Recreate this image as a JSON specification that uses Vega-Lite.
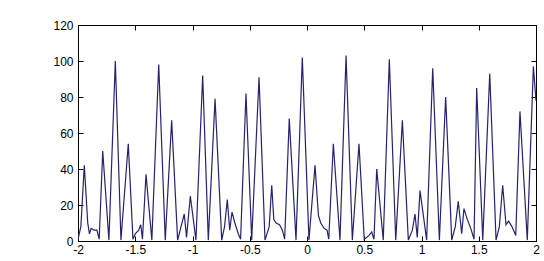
{
  "$schema": "https://vega.github.io/schema/vega-lite/v6.json",
  "width": 458,
  "height": 216,
  "autosize": {"type": "none"},
  "padding": {"left": 78, "top": 25, "right": 8, "bottom": 20},
  "background": "white",
  "config": {
    "view": {"stroke": "black", "strokeWidth": 1},
    "axis": {
      "grid": false,
      "domainColor": "black",
      "tickColor": "black",
      "tickSize": -5,
      "labelFont": "Liberation Sans",
      "labelFontSize": 12,
      "labelColor": "black",
      "labelExpr": "datum.value",
      "title": null
    }
  },
  "data": {"values": [
    {"x": -2.0, "y": 1}, {"x": -1.975, "y": 8}, {"x": -1.945, "y": 42}, {"x": -1.915, "y": 10}, {"x": -1.9, "y": 4},
    {"x": -1.885, "y": 7}, {"x": -1.86, "y": 6}, {"x": -1.835, "y": 6}, {"x": -1.815, "y": 1}, {"x": -1.784, "y": 50},
    {"x": -1.73, "y": 0.5}, {"x": -1.674, "y": 100}, {"x": -1.625, "y": 0.5}, {"x": -1.561, "y": 54}, {"x": -1.52, "y": 1},
    {"x": -1.5, "y": 4}, {"x": -1.47, "y": 6}, {"x": -1.452, "y": 9}, {"x": -1.437, "y": 1}, {"x": -1.406, "y": 37},
    {"x": -1.355, "y": 0.5}, {"x": -1.295, "y": 98}, {"x": -1.238, "y": 0.5}, {"x": -1.182, "y": 67}, {"x": -1.13, "y": 0.5},
    {"x": -1.1, "y": 8}, {"x": -1.072, "y": 15}, {"x": -1.052, "y": 2}, {"x": -1.019, "y": 25}, {"x": -0.97, "y": 0.5},
    {"x": -0.911, "y": 92}, {"x": -0.862, "y": 0.5}, {"x": -0.803, "y": 79}, {"x": -0.745, "y": 0.5}, {"x": -0.72, "y": 8},
    {"x": -0.696, "y": 23}, {"x": -0.675, "y": 6}, {"x": -0.655, "y": 16}, {"x": -0.63, "y": 10}, {"x": -0.6, "y": 4},
    {"x": -0.58, "y": 1}, {"x": -0.533, "y": 82}, {"x": -0.483, "y": 0.5}, {"x": -0.419, "y": 91}, {"x": -0.367, "y": 0.5},
    {"x": -0.33, "y": 8}, {"x": -0.308, "y": 31}, {"x": -0.29, "y": 12}, {"x": -0.27, "y": 10}, {"x": -0.24, "y": 9},
    {"x": -0.215, "y": 6}, {"x": -0.195, "y": 1}, {"x": -0.155, "y": 68}, {"x": -0.096, "y": 0.5}, {"x": -0.041, "y": 102},
    {"x": 0.017, "y": 0.5}, {"x": 0.07, "y": 42}, {"x": 0.1, "y": 14}, {"x": 0.12, "y": 10}, {"x": 0.15, "y": 7},
    {"x": 0.175, "y": 6}, {"x": 0.19, "y": 1}, {"x": 0.23, "y": 54}, {"x": 0.288, "y": 0.5}, {"x": 0.341, "y": 103},
    {"x": 0.396, "y": 0.5}, {"x": 0.454, "y": 54}, {"x": 0.5, "y": 1}, {"x": 0.54, "y": 3}, {"x": 0.565, "y": 5},
    {"x": 0.585, "y": 1}, {"x": 0.609, "y": 40}, {"x": 0.666, "y": 0.5}, {"x": 0.719, "y": 101}, {"x": 0.775, "y": 0.5},
    {"x": 0.833, "y": 67}, {"x": 0.885, "y": 0.5}, {"x": 0.92, "y": 6}, {"x": 0.943, "y": 15}, {"x": 0.963, "y": 2},
    {"x": 0.987, "y": 28}, {"x": 1.045, "y": 0.5}, {"x": 1.098, "y": 96}, {"x": 1.156, "y": 0.5}, {"x": 1.211, "y": 80},
    {"x": 1.264, "y": 0.5}, {"x": 1.295, "y": 8}, {"x": 1.321, "y": 22}, {"x": 1.351, "y": 4}, {"x": 1.371, "y": 18},
    {"x": 1.4, "y": 12}, {"x": 1.43, "y": 7}, {"x": 1.459, "y": 1}, {"x": 1.482, "y": 85}, {"x": 1.535, "y": 0.5},
    {"x": 1.596, "y": 93}, {"x": 1.651, "y": 0.5}, {"x": 1.68, "y": 8}, {"x": 1.709, "y": 31}, {"x": 1.738, "y": 9},
    {"x": 1.76, "y": 11}, {"x": 1.79, "y": 8}, {"x": 1.823, "y": 3}, {"x": 1.86, "y": 72}, {"x": 1.924, "y": 0.5},
    {"x": 1.977, "y": 97}, {"x": 2.0, "y": 78}
  ]},
  "layer": [
    {
      "mark": {"type": "line", "color": "#24246e", "strokeWidth": 1.2, "clip": true},
      "encoding": {
        "x": {"field": "x", "type": "quantitative", "scale": {"domain": [-2, 2], "nice": false},
              "axis": {"orient": "bottom", "values": [-2, -1.5, -1, -0.5, 0, 0.5, 1, 1.5, 2], "labelPadding": 8, "labelFlush": false}},
        "y": {"field": "y", "type": "quantitative", "scale": {"domain": [0, 120], "nice": false},
              "axis": {"orient": "left", "values": [0, 20, 40, 60, 80, 100, 120], "labelPadding": 10}}
      }
    },
    {
      "mark": {"type": "line", "opacity": 0},
      "encoding": {
        "x": {"field": "x", "type": "quantitative",
              "axis": {"orient": "top", "values": [-2, -1.5, -1, -0.5, 0, 0.5, 1, 1.5, 2], "labels": false}},
        "y": {"field": "y", "type": "quantitative",
              "axis": {"orient": "right", "values": [0, 20, 40, 60, 80, 100, 120], "labels": false}}
      }
    }
  ],
  "resolve": {"axis": {"x": "independent", "y": "independent"}}
}
